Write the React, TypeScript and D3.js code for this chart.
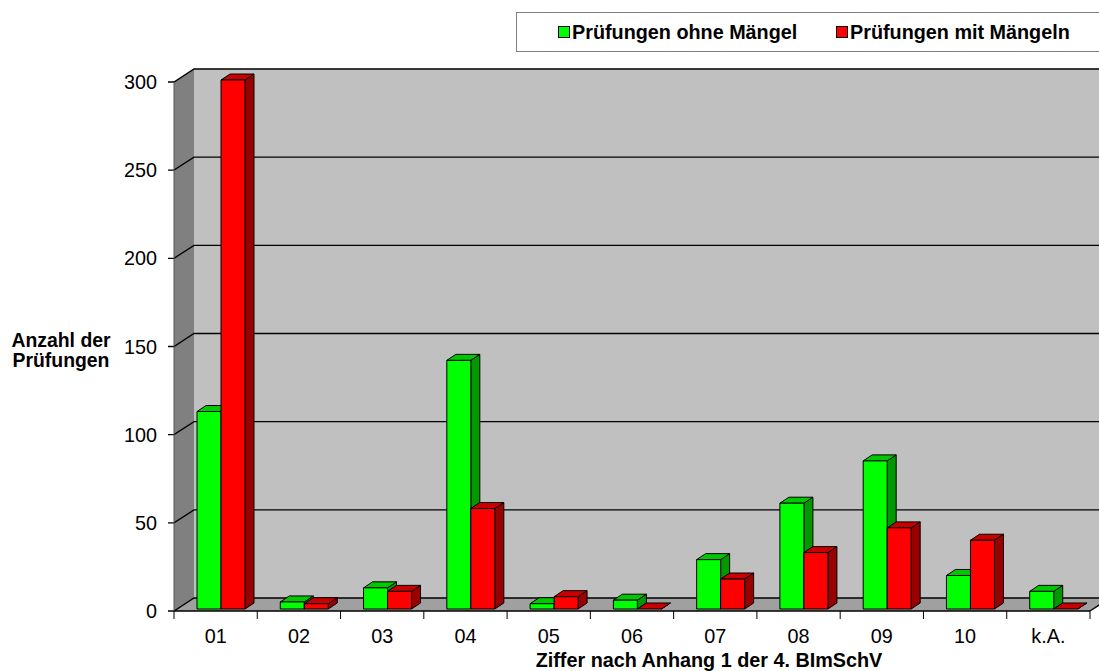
import React, { useEffect, useRef } from 'react';
import * as d3 from 'd3';

const categories = ['01', '02', '03', '04', '05', '06', '07', '08', '09', '10', 'k.A.'];
const ohneMaengel = [112, 4, 12, 141, 3, 5, 28, 60, 84, 19, 10];
const mitMaengeln = [300, 3, 10, 57, 7, 0, 17, 32, 46, 39, 0];
const yTicks = [0, 50, 100, 150, 200, 250, 300];
const seriesNames = ['Prüfungen ohne Mängel', 'Prüfungen mit Mängeln'];

const palette = [
  { front: '#00ff00', top: '#00c800', side: '#009900' },
  { front: '#ff0000', top: '#c80000', side: '#990000' },
];

const App: React.FC = () => {
  const svgRef = useRef<SVGSVGElement>(null);
  const width = 1099;
  const height = 671;

  useEffect(() => {
    document.body.style.margin = '0';
    if (!svgRef.current) return;
    const svg = d3.select(svgRef.current);
    svg.selectAll('*').remove();

    const left = 174;
    const right = 1090;
    const depthX = 20;
    const depthY = -13;

    const y = d3.scaleLinear().domain([0, 300]).range([611, 82]);
    const x = d3.scaleBand<string>().domain(categories).range([left, right]);

    const font = '"Liberation Sans", Arial, sans-serif';
    const fs = 19.8;

    // walls
    svg.append('polygon')
      .attr('points', [[left, y(300)], [left + depthX, y(300) + depthY], [left + depthX, y(0) + depthY], [left, y(0)]].join(' '))
      .attr('fill', '#808080');
    svg.append('rect')
      .attr('x', left + depthX).attr('y', y(300) + depthY)
      .attr('width', right + 40 - left).attr('height', y(0) - y(300))
      .attr('fill', '#c0c0c0');
    svg.append('polygon')
      .attr('points', [[left, y(0)], [right, y(0)], [right + depthX, y(0) + depthY], [left + depthX, y(0) + depthY]].join(' '))
      .attr('fill', '#a0a0a0');

    // gridlines + y tick labels
    yTicks.forEach(t => {
      const p = d3.path();
      p.moveTo(left - 6, y(t));
      p.lineTo(left, y(t));
      p.lineTo(left + depthX, y(t) + depthY);
      p.lineTo(width + 10, y(t) + depthY);
      svg.append('path').attr('d', p.toString()).attr('fill', 'none')
        .attr('stroke', '#000').attr('stroke-width', 1.3);
      svg.append('text')
        .attr('x', 157).attr('y', y(t) + 7)
        .attr('text-anchor', 'end')
        .attr('font-family', font).attr('font-size', fs)
        .text(t);
    });

    // floor front / axis
    svg.append('line')
      .attr('x1', left).attr('x2', right).attr('y1', y(0)).attr('y2', y(0))
      .attr('stroke', '#000').attr('stroke-width', 1.3);
    svg.append('line')
      .attr('x1', right).attr('x2', right + depthX).attr('y1', y(0)).attr('y2', y(0) + depthY)
      .attr('stroke', '#000').attr('stroke-width', 1.3);
    svg.append('line')
      .attr('x1', left).attr('x2', left).attr('y1', y(0)).attr('y2', y(300))
      .attr('stroke', '#555').attr('stroke-width', 1);

    const xTicks = categories.map(c => x(c)!).concat([right]);
    xTicks.forEach(tx => {
      svg.append('line')
        .attr('x1', tx).attr('x2', tx).attr('y1', y(0)).attr('y2', y(0) + 8)
        .attr('stroke', '#000');
    });
    categories.forEach(c => {
      svg.append('text')
        .attr('x', x(c)! + x.bandwidth() / 2).attr('y', 643)
        .attr('text-anchor', 'middle')
        .attr('font-family', font).attr('font-size', fs)
        .text(c);
    });

    // bars
    const barW = 24;
    const offX = 3, offY = -2;
    const bdx = 9, bdy = -6;
    [ohneMaengel, mitMaengeln].forEach((values, si) => {
      const col = palette[si];
      categories.forEach((c, i) => {
        const x0 = x(c)! + 20 + offX + si * barW;
        const x1 = x0 + barW;
        const yb = y(0) + offY;
        const yt = y(values[i]) + offY;
        const g = svg.append('g').attr('stroke', '#000').attr('stroke-width', 1).attr('stroke-linejoin', 'round');
        g.append('polygon')
          .attr('points', [[x1, yt], [x1 + bdx, yt + bdy], [x1 + bdx, yb + bdy], [x1, yb]].join(' '))
          .attr('fill', col.side);
        g.append('polygon')
          .attr('points', [[x0, yt], [x0 + bdx, yt + bdy], [x1 + bdx, yt + bdy], [x1, yt]].join(' '))
          .attr('fill', col.top);
        if (yb - yt > 0.5) {
          g.append('rect')
            .attr('x', x0).attr('y', yt).attr('width', barW).attr('height', yb - yt)
            .attr('fill', col.front);
        }
      });
    });

    // axis titles
    const yTitle = svg.append('text')
      .attr('text-anchor', 'middle')
      .attr('font-family', font).attr('font-size', 19.4).attr('font-weight', 'bold');
    yTitle.append('tspan').attr('x', 61).attr('y', 347).text('Anzahl der');
    yTitle.append('tspan').attr('x', 61).attr('y', 367).text('Prüfungen');

    svg.append('text')
      .attr('x', 709).attr('y', 667)
      .attr('text-anchor', 'middle')
      .attr('font-family', font).attr('font-size', fs).attr('font-weight', 'bold')
      .text('Ziffer nach Anhang 1 der 4. BImSchV');

    // legend
    svg.append('rect')
      .attr('x', 516.5).attr('y', 12.5).attr('width', 600).attr('height', 39)
      .attr('fill', '#fff').attr('stroke', '#808080');
    const legendX = [558, 836];
    seriesNames.forEach((name, i) => {
      svg.append('rect')
        .attr('x', legendX[i] + 0.5).attr('y', 26.5).attr('width', 11).attr('height', 11)
        .attr('fill', palette[i].front).attr('stroke', '#000');
      svg.append('text')
        .attr('x', legendX[i] + 14).attr('y', 39)
        .attr('font-family', font).attr('font-size', fs).attr('font-weight', 'bold')
        .text(name);
    });
  }, []);

  return <svg ref={svgRef} width={width} height={height} style={{ display: 'block', background: '#fff' }} />;
};

export default App;
